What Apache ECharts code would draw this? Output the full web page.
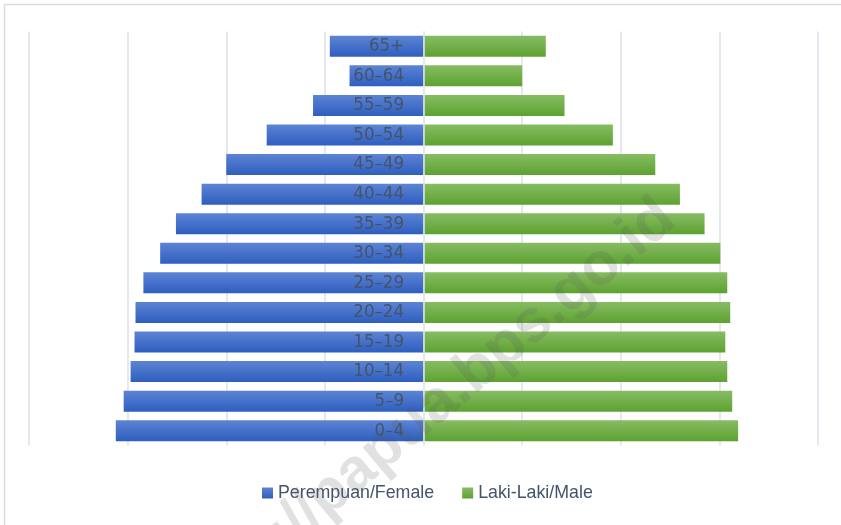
<!DOCTYPE html>
<html>
<head>
<meta charset="utf-8">
<script src="https://cdn.jsdelivr.net/npm/echarts@6/dist/echarts.min.js"></script>
<style>
html,body{margin:0;padding:0;background:#fff;}
#chart{width:841px;height:525px;}
</style>
</head>
<body>
<div id="chart"></div>
<script>
const categories = ['0–4','5–9','10–14','15–19','20–24','25–29','30–34','35–39','40–44','45–49','50–54','55–59','60–64','65+'];
const female = [3.12,3.04,2.97,2.93,2.92,2.84,2.67,2.51,2.25,2.00,1.59,1.12,0.75,0.95];
const male   = [3.19,3.13,3.08,3.06,3.11,3.08,3.01,2.85,2.60,2.35,1.92,1.43,1.00,1.24];
const seriesNames = ['Perempuan/Female','Laki-Laki/Male'];

const chart = echarts.init(document.getElementById('chart'));
const blueGrad = new echarts.graphic.LinearGradient(0,0,0,1,[{offset:0,color:'#5D84D4'},{offset:1,color:'#2E5EBF'}]);
const greenGrad = new echarts.graphic.LinearGradient(0,0,0,1,[{offset:0,color:'#87BC63'},{offset:1,color:'#5DA231'}]);
chart.setOption({
  animation:false,
  backgroundColor:'#fff',
  grid:{left:29,right:23,top:31.5,bottom:79.5,containLabel:false,outerBoundsMode:'none'},
  xAxis:{type:'value',min:-4,max:4,interval:1,
    axisLabel:{show:false},axisTick:{show:false},axisLine:{show:false},
    splitLine:{show:true,lineStyle:{color:'#DDE1E8',width:1.5}}},
  yAxis:{type:'category',data:categories,z:5,
    axisTick:{show:false},
    axisLine:{show:false,onZero:false},
    axisLabel:{margin:-375,fontFamily:'DejaVu Sans Condensed, Liberation Sans, sans-serif',fontSize:18.5,color:'#44546A'}},
  legend:{left:257,top:479,itemWidth:11,itemHeight:11,itemGap:28,icon:'rect',
    textStyle:{fontFamily:'Liberation Sans, sans-serif',fontSize:17.8,color:'#44546A'},
    data:seriesNames},
  series:[
    {name:seriesNames[0],type:'bar',data:female.map(v=>-v),barWidth:21,barGap:'-100%',
      itemStyle:{color:blueGrad},
      markLine:{silent:true,symbol:'none',z:10,label:{show:false},
        lineStyle:{color:'#E3E8F0',width:1.5,type:'solid'},data:[{xAxis:0}]}},
    {name:seriesNames[1],type:'bar',data:male,barWidth:21,barGap:'-100%',
      itemStyle:{color:greenGrad}}
  ],
  graphic:[
    {type:'rect',z:-1,silent:true,shape:{x:4.5,y:4.5,width:900,height:900},
      style:{fill:'none',stroke:'#D8DCE3',lineWidth:1.5}},
    {type:'text',z:100,silent:true,x:415,y:423,rotation:40*Math.PI/180,
      style:{text:'https://papua.bps.go.id',font:'bold 60px Liberation Sans, sans-serif',
        fill:'rgba(90,90,90,0.18)',align:'center',verticalAlign:'middle'}}
  ]
});
</script>
</body>
</html>
